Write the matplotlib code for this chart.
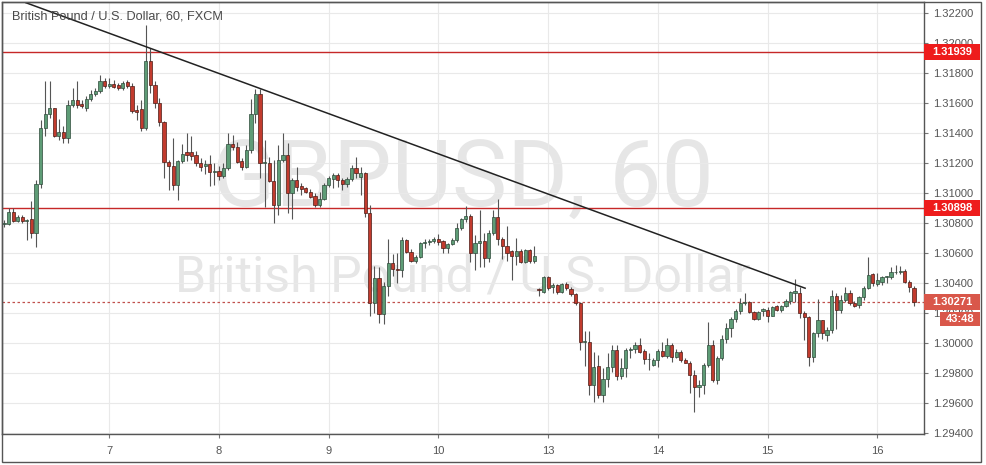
import matplotlib
matplotlib.use('Agg')
import matplotlib.pyplot as plt
from matplotlib.patches import Rectangle

# hourly candles GBP/USD
opens = [1.30790, 1.30796, 1.30873, 1.30816, 1.30840, 1.30811, 1.30827, 1.30733, 1.31062, 1.31433,
         1.31527, 1.31567, 1.31382, 1.31407, 1.31367, 1.31589, 1.31622, 1.31596, 1.31567, 1.31629,
         1.31662, 1.31678, 1.31749, 1.31711, 1.31729, 1.31722, 1.31700, 1.31740, 1.31716, 1.31556,
         1.31560, 1.31433, 1.31882, 1.31722, 1.31600, 1.31471, 1.31204, 1.31180, 1.31051, 1.31211,
         1.31273, 1.31273, 1.31256, 1.31200, 1.31178, 1.31196, 1.31138, 1.31144, 1.31116, 1.31167,
         1.31329, 1.31304, 1.31216, 1.31176, 1.31287, 1.31527, 1.31660, 1.31200, 1.31200, 1.31082,
         1.30920, 1.31220, 1.31253, 1.31002, 1.31087, 1.31047, 1.31031, 1.31009, 1.30982, 1.30920,
         1.30958, 1.31053, 1.31096, 1.31120, 1.31087, 1.31060, 1.31091, 1.31164, 1.31104, 1.31136,
         1.30869, 1.30264, 1.30431, 1.30193, 1.30382, 1.30531, 1.30491, 1.30487, 1.30687, 1.30609,
         1.30547, 1.30571, 1.30669, 1.30671, 1.30680, 1.30693, 1.30682, 1.30631, 1.30658, 1.30687,
         1.30764, 1.30824, 1.30847, 1.30598, 1.30664, 1.30680, 1.30564, 1.30736, 1.30842, 1.30691,
         1.30647, 1.30613, 1.30582, 1.30613, 1.30542, 1.30620, 1.30547, 1.30356, 1.30342, 1.30438,
         1.30373, 1.30387, 1.30342, 1.30393, 1.30360, 1.30324, 1.30269, 1.30009, 1.30009, 1.29720,
         1.29847, 1.29653, 1.29758, 1.29842, 1.29953, 1.29780, 1.29831, 1.29953, 1.29958, 1.29987,
         1.29949, 1.29891, 1.29853, 1.29887, 1.29947, 1.29916, 1.29987, 1.29909, 1.29942, 1.29887,
         1.29869, 1.29787, 1.29704, 1.29722, 1.29853, 1.29987, 1.29753, 1.29898, 1.30024, 1.30098,
         1.30160, 1.30213, 1.30264, 1.30273, 1.30209, 1.30158, 1.30216, 1.30222, 1.30182, 1.30244,
         1.30222, 1.30249, 1.30282, 1.30336, 1.30336, 1.30202, 1.30171, 1.29909, 1.30064, 1.30153,
         1.30053, 1.30087, 1.30313, 1.30220, 1.30287, 1.30331, 1.30269, 1.30253, 1.30304, 1.30364,
         1.30458, 1.30393, 1.30409, 1.30438, 1.30442, 1.30471, 1.30471, 1.30482, 1.30409, 1.30369]
highs = [1.30820, 1.30900, 1.30900, 1.30856, 1.30856, 1.30827, 1.30944, 1.31089, 1.31489, 1.31744,
         1.31744, 1.31567, 1.31490, 1.31444, 1.31622, 1.31700, 1.31744, 1.31622, 1.31644, 1.31689,
         1.31700, 1.31789, 1.31767, 1.31767, 1.31756, 1.31733, 1.31744, 1.31756, 1.31733, 1.31589,
         1.31622, 1.32122, 1.31967, 1.31744, 1.31633, 1.31478, 1.31222, 1.31367, 1.31222, 1.31329,
         1.31400, 1.31378, 1.31278, 1.31233, 1.31222, 1.31256, 1.31200, 1.31178, 1.31200, 1.31400,
         1.31389, 1.31342, 1.31231, 1.31320, 1.31624, 1.31691, 1.31691, 1.31353, 1.31242, 1.31220,
         1.31320, 1.31398, 1.31331, 1.31098, 1.31176, 1.31064, 1.31042, 1.31024, 1.30998, 1.31009,
         1.31064, 1.31113, 1.31136, 1.31131, 1.31098, 1.31107, 1.31187, 1.31242, 1.31176, 1.31142,
         1.30920, 1.30513, 1.30507, 1.30404, 1.30691, 1.30591, 1.30598, 1.30709, 1.30691, 1.30627,
         1.30587, 1.30676, 1.30691, 1.30691, 1.30709, 1.30724, 1.30687, 1.30664, 1.30698, 1.30798,
         1.30831, 1.30913, 1.30860, 1.30720, 1.30887, 1.30736, 1.30753, 1.30887, 1.30958, 1.30709,
         1.30780, 1.30620, 1.30698, 1.30624, 1.30627, 1.30627, 1.30647, 1.30367, 1.30447, 1.30447,
         1.30400, 1.30393, 1.30398, 1.30409, 1.30376, 1.30331, 1.30276, 1.30082, 1.30082, 1.29938,
         1.29920, 1.29836, 1.29930, 1.29987, 1.29987, 1.29898, 1.29964, 1.29971, 1.30009, 1.30031,
         1.29958, 1.29936, 1.29898, 1.29958, 1.30009, 1.30031, 1.29998, 1.29958, 1.29953, 1.29898,
         1.29880, 1.29820, 1.29750, 1.29864, 1.30142, 1.30020, 1.29910, 1.30053, 1.30131, 1.30176,
         1.30229, 1.30302, 1.30331, 1.30280, 1.30213, 1.30213, 1.30233, 1.30238, 1.30249, 1.30253,
         1.30253, 1.30293, 1.30349, 1.30424, 1.30376, 1.30216, 1.30180, 1.30076, 1.30291, 1.30153,
         1.30104, 1.30353, 1.30331, 1.30322, 1.30376, 1.30353, 1.30280, 1.30313, 1.30378, 1.30571,
         1.30464, 1.30469, 1.30447, 1.30447, 1.30504, 1.30518, 1.30513, 1.30491, 1.30420, 1.30382]
lows = [1.30770, 1.30789, 1.30807, 1.30807, 1.30800, 1.30684, 1.30700, 1.30638, 1.31033, 1.31378,
        1.31500, 1.31373, 1.31356, 1.31333, 1.31333, 1.31573, 1.31567, 1.31567, 1.31544, 1.31611,
        1.31644, 1.31667, 1.31700, 1.31700, 1.31700, 1.31689, 1.31689, 1.31700, 1.31533, 1.31489,
        1.31411, 1.31422, 1.31667, 1.31567, 1.31444, 1.31100, 1.31022, 1.31018, 1.30951, 1.31200,
        1.31211, 1.31222, 1.31178, 1.31144, 1.31129, 1.31044, 1.31056, 1.31089, 1.31100, 1.31156,
        1.31289, 1.31198, 1.31153, 1.31164, 1.31264, 1.31464, 1.31098, 1.30909, 1.31076, 1.30798,
        1.30853, 1.31209, 1.30864, 1.30824, 1.31016, 1.30984, 1.30998, 1.30964, 1.30909, 1.30909,
        1.30953, 1.31042, 1.31036, 1.31042, 1.31020, 1.31042, 1.31082, 1.31098, 1.30987, 1.30842,
        1.30180, 1.30198, 1.30131, 1.30127, 1.30311, 1.30447, 1.30398, 1.30442, 1.30598, 1.30540,
        1.30533, 1.30564, 1.30636, 1.30653, 1.30667, 1.30653, 1.30598, 1.30598, 1.30651, 1.30676,
        1.30753, 1.30809, 1.30542, 1.30487, 1.30509, 1.30504, 1.30542, 1.30720, 1.30653, 1.30558,
        1.30549, 1.30420, 1.30520, 1.30531, 1.30536, 1.30536, 1.30536, 1.30316, 1.30336, 1.30353,
        1.30331, 1.30324, 1.30336, 1.30353, 1.30313, 1.30253, 1.29953, 1.29847, 1.29653, 1.29609,
        1.29631, 1.29609, 1.29709, 1.29809, 1.29753, 1.29758, 1.29771, 1.29898, 1.29936, 1.29931,
        1.29858, 1.29820, 1.29847, 1.29842, 1.29904, 1.29898, 1.29876, 1.29898, 1.29876, 1.29864,
        1.29664, 1.29542, 1.29640, 1.29660, 1.29842, 1.29742, 1.29724, 1.29887, 1.29998, 1.30040,
        1.30140, 1.30193, 1.30253, 1.30202, 1.30153, 1.30153, 1.30180, 1.30142, 1.30178, 1.30216,
        1.30209, 1.30238, 1.30260, 1.30276, 1.30164, 1.30022, 1.29847, 1.29876, 1.30040, 1.30024,
        1.30013, 1.30069, 1.30090, 1.30198, 1.30276, 1.30253, 1.30242, 1.30231, 1.30287, 1.30358,
        1.30382, 1.30380, 1.30387, 1.30398, 1.30424, 1.30462, 1.30462, 1.30398, 1.30338, 1.30249]
closes = [1.30800, 1.30873, 1.30816, 1.30840, 1.30811, 1.30820, 1.30733, 1.31062, 1.31433, 1.31527,
          1.31567, 1.31382, 1.31407, 1.31367, 1.31589, 1.31622, 1.31584, 1.31578, 1.31629, 1.31662,
          1.31678, 1.31749, 1.31711, 1.31729, 1.31707, 1.31700, 1.31733, 1.31711, 1.31544, 1.31538,
          1.31433, 1.31882, 1.31722, 1.31600, 1.31471, 1.31204, 1.31178, 1.31051, 1.31211, 1.31260,
          1.31256, 1.31249, 1.31200, 1.31171, 1.31196, 1.31138, 1.31144, 1.31116, 1.31167, 1.31329,
          1.31307, 1.31209, 1.31176, 1.31287, 1.31527, 1.31660, 1.31200, 1.31202, 1.31082, 1.30920,
          1.31220, 1.31253, 1.31002, 1.31087, 1.31042, 1.31024, 1.31009, 1.30971, 1.30920, 1.30958,
          1.31053, 1.31098, 1.31120, 1.31087, 1.31060, 1.31091, 1.31164, 1.31131, 1.31136, 1.30869,
          1.30264, 1.30431, 1.30193, 1.30382, 1.30531, 1.30491, 1.30484, 1.30687, 1.30609, 1.30547,
          1.30571, 1.30669, 1.30671, 1.30680, 1.30693, 1.30673, 1.30631, 1.30658, 1.30687, 1.30764,
          1.30824, 1.30847, 1.30598, 1.30664, 1.30680, 1.30564, 1.30736, 1.30842, 1.30691, 1.30647,
          1.30602, 1.30582, 1.30613, 1.30542, 1.30620, 1.30547, 1.30580, 1.30353, 1.30438, 1.30364,
          1.30387, 1.30342, 1.30393, 1.30364, 1.30327, 1.30269, 1.30009, 1.30009, 1.29720, 1.29842,
          1.29653, 1.29758, 1.29842, 1.29953, 1.29780, 1.29831, 1.29953, 1.29958, 1.29987, 1.29942,
          1.29891, 1.29893, 1.29887, 1.29947, 1.29916, 1.29987, 1.29909, 1.29942, 1.29887, 1.29869,
          1.29787, 1.29704, 1.29722, 1.29853, 1.29987, 1.29753, 1.29898, 1.30024, 1.30098, 1.30160,
          1.30213, 1.30264, 1.30273, 1.30209, 1.30158, 1.30209, 1.30224, 1.30182, 1.30238, 1.30222,
          1.30249, 1.30282, 1.30338, 1.30344, 1.30198, 1.30171, 1.29909, 1.30064, 1.30153, 1.30064,
          1.30087, 1.30313, 1.30220, 1.30287, 1.30331, 1.30269, 1.30249, 1.30304, 1.30364, 1.30453,
          1.30398, 1.30420, 1.30438, 1.30442, 1.30471, 1.30476, 1.30482, 1.30409, 1.30371, 1.30271]

# first candle of each day (bar index) and its label
day_idx = [23, 47, 71, 95, 119, 143, 167, 191]
day_labels = ['7', '8', '9', '10', '13', '14', '15', '16']

price_ticks = [1.294, 1.296, 1.298, 1.300, 1.302, 1.304, 1.306, 1.308,
               1.310, 1.312, 1.314, 1.316, 1.318, 1.320, 1.322]

resistance_hi = 1.31939
resistance_lo = 1.30898
last_price = 1.30271
countdown = '43:48'

# drawn trend line (bar index, price)
trend_idx = [4.8, 175.2]
trend_price = [1.32268, 1.30365]

title = 'British Pound / U.S. Dollar, 60, FXCM'
wm_symbol = 'GBPUSD, 60'
wm_name = 'British Pound / U.S. Dollar'

UP = '#5e9c76'
UP_EDGE = '#2e4a3a'
DOWN = '#c23b2e'
DOWN_EDGE = '#4a1c16'
WICK = '#555555'
TXT = '#555555'

W, H = 986, 465
fig = plt.figure(figsize=(W / 100, H / 100), dpi=100)
fig.patch.set_facecolor('white')
ax = fig.add_axes([2 / W, (H - 434) / H, 922 / W, 432 / H])

ax.set_xlim(-0.44, 201.2)
ax.set_ylim(1.29393, 1.32273)


def fit_width(txt, target_px):
    # shrink / grow a text until it is target_px wide
    r = fig.canvas.get_renderer()
    w = txt.get_window_extent(r).width
    txt.set_fontsize(txt.get_fontsize() * target_px / w)


# watermark
wm1 = ax.text(0.5, 0.527, wm_symbol, transform=ax.transAxes, ha='center', va='baseline',
              fontsize=70, color='#e6e6e6', family='Roboto', zorder=0)
wm2 = ax.text(0.5, 0.329, wm_name, transform=ax.transAxes, ha='center', va='baseline',
              fontsize=40, color='#e6e6e6', family='Roboto', zorder=0)
fit_width(wm1, 502)
fit_width(wm2, 575)

# candles
for i in range(len(opens)):
    o, h, l, c = opens[i], highs[i], lows[i], closes[i]
    up = c >= o
    ax.vlines(i, l, h, color=WICK, lw=0.8, zorder=3)
    body = max(abs(c - o), 0.00005)
    ax.bar(i, body, bottom=min(o, c), width=0.7,
           color=UP if up else DOWN, edgecolor=UP_EDGE if up else DOWN_EDGE,
           lw=0.5, zorder=4)

# levels and trend line
ax.axhline(resistance_hi, color='#c62828', lw=1, zorder=2)
ax.axhline(resistance_lo, color='#c62828', lw=1, zorder=2)
ax.axhline(last_price, color='#c0504d', lw=0.9, ls=(0, (2, 2)), zorder=2)
ax.plot(trend_idx, trend_price, color='#222222', lw=1.1, zorder=5)

# axes styling
ax.set_xticks(day_idx)
ax.set_xticklabels(day_labels)
ax.set_yticks(price_ticks)
ax.set_yticklabels(['%.5f' % p for p in price_ticks])
ax.yaxis.tick_right()
ax.tick_params(axis='both', colors='#777777', labelcolor=TXT, labelsize=8, length=3)
ax.tick_params(axis='y', pad=3.5)
ax.tick_params(axis='x', pad=5.5)
for lab in ax.get_xticklabels() + ax.get_yticklabels():
    lab.set_family('Liberation Sans')
ax.grid(True, color='#e9e9e9', lw=0.8)
ax.set_axisbelow(True)
for s in ax.spines.values():
    s.set_color('#555555')
    s.set_linewidth(1)

ax.text(0.011, 0.96, title, transform=ax.transAxes, ha='left', va='baseline',
        fontsize=9.2, color='#4a4a4a', family='Liberation Sans', zorder=6)

# price labels on the scale
ytr = ax.get_yaxis_transform()
box_w = 56 / 922
half = 8 / 15000.0
for price, col in [(resistance_hi, '#ee1c1c'), (resistance_lo, '#ee1c1c'), (last_price, '#d9574a')]:
    ax.add_patch(Rectangle((1.0, price - half), box_w, 2 * half, transform=ytr,
                           facecolor=col, edgecolor='none', clip_on=False, zorder=10))
    ax.text(1.0 + box_w / 2, price, '%.5f' % price, transform=ytr, ha='center', va='center',
            fontsize=8, fontweight='bold', color='white', family='Liberation Sans',
            clip_on=False, zorder=11)
cd_y = last_price - 16.5 / 15000.0
cd_x0 = (940 - 2) / 922
cd_half = 7 / 15000.0
ax.add_patch(Rectangle((cd_x0, cd_y - cd_half), 1.0 + box_w - cd_x0, 2 * cd_half, transform=ytr,
                       facecolor='#d9574a', edgecolor='none', clip_on=False, zorder=10))
ax.text((cd_x0 + 1.0 + box_w) / 2, cd_y, countdown, transform=ytr, ha='center', va='center',
        fontsize=8, fontweight='bold', color='white', family='Liberation Sans',
        clip_on=False, zorder=11)

# outer frame of the widget
fig.add_artist(Rectangle((2 / W, 3 / H), 979 / W, 460 / H, transform=fig.transFigure,
                         fill=False, edgecolor='#555555', lw=1))

fig.savefig('out.png', dpi=100)
